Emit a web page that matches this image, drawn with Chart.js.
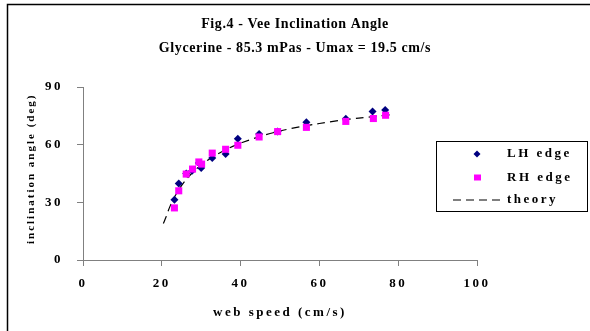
<!DOCTYPE html>
<html>
<head>
<meta charset="utf-8">
<script src="https://cdn.jsdelivr.net/npm/chart.js@4/dist/chart.umd.min.js"></script>
<style>
  html, body { margin: 0; padding: 0; background: #fff; }
</style>
</head>
<body>
<canvas id="chart" width="590" height="331"></canvas>
<script>
// values
var lhSpeed = [23.2, 24.3, 26.2, 27.7, 29.4, 30.0, 32.8, 36.2, 39.3, 44.7, 49.4, 56.7, 66.7, 73.5, 76.7];
var lhAngle = [31.3, 39.8, 45.0, 46.4, 50.5, 47.8, 53.0, 55.1, 63.1, 65.6, 66.8, 71.6, 73.5, 77.2, 78.0];

var rhSpeed = [23.2, 24.3, 26.2, 27.8, 29.4, 30.1, 32.8, 36.2, 39.3, 44.7, 49.4, 56.7, 66.7, 73.7, 76.8];
var rhAngle = [27.1, 36.0, 44.7, 47.3, 51.0, 49.9, 55.6, 57.6, 59.7, 64.0, 66.8, 69.0, 72.1, 73.6, 75.3];

var theorySpeed = [20.4, 21, 22, 23, 24, 25, 26, 28, 30, 32, 35, 38, 40, 45, 50, 55, 60, 65, 70, 75, 78];
var theoryAngle = [19, 22, 27.5, 32, 35.5, 38.7, 41.4, 45.9, 49.5, 52.4, 56.1, 59.1, 60.8, 64.3, 67.1, 69.3, 71.0, 72.6, 73.8, 74.9, 75.5];

var titleLines = ['Fig.4 - Vee Inclination Angle', 'Glycerine - 85.3 mPas - Umax = 19.5 cm/s'];
var legendLabels = ['LH edge', 'RH edge', 'theory'];

function pts(xs, ys) {
  var out = [];
  for (var i = 0; i < xs.length; i++) out.push({x: xs[i], y: ys[i]});
  return out;
}

var serif = "'Liberation Serif', 'Times New Roman', serif";
var SPACE = '2.5px';

// run fn with another letter spacing, then put the default back
function withSpacing(chart, obj, name, sp) {
  var orig = obj[name];
  obj[name] = function() {
    chart.ctx.letterSpacing = sp;
    orig.apply(this, arguments);
    chart.ctx.letterSpacing = SPACE;
  };
}

// excel-like spaced out lettering; title and y caption get less of it
var spacing = {
  id: 'spacing',
  beforeLayout: function(chart) { chart.ctx.letterSpacing = SPACE; },
  afterLayout: function(chart) {
    if (chart._spaced) return;
    withSpacing(chart, chart.titleBlock, 'draw', '0.6px');
    withSpacing(chart, chart.scales.y, 'drawTitle', '2px');
    chart._spaced = true;
  },
  beforeDraw: function(chart) { chart.ctx.letterSpacing = SPACE; }
};

// legend box sits over the right of the plot, so draw it by hand
var boxLegend = {
  id: 'boxLegend',
  afterDraw: function(chart) {
    var ctx = chart.ctx;
    ctx.save();
    ctx.letterSpacing = '2.5px';
    ctx.strokeStyle = '#000';
    ctx.lineWidth = 1;
    ctx.strokeRect(436.5, 141.5, 151, 70);

    var rows = [154, 177.5, 200];
    ctx.font = 'bold 13px ' + serif;
    ctx.textBaseline = 'middle';
    for (var i = 0; i < 3; i++) {
      var ds = chart.data.datasets[i];
      var y = rows[i];
      if (i === 0) {
        ctx.fillStyle = ds.backgroundColor;
        ctx.beginPath();
        ctx.moveTo(477, y - 3.5); ctx.lineTo(480.5, y); ctx.lineTo(477, y + 3.5); ctx.lineTo(473.5, y);
        ctx.closePath();
        ctx.fill();
      } else if (i === 1) {
        ctx.fillStyle = ds.backgroundColor;
        ctx.fillRect(474, y - 3, 7, 6);
      } else {
        ctx.strokeStyle = ds.borderColor;
        ctx.lineWidth = 1.2;
        ctx.setLineDash(ds.borderDash);
        ctx.beginPath();
        ctx.moveTo(453, y); ctx.lineTo(503, y);
        ctx.stroke();
        ctx.setLineDash([]);
      }
      ctx.fillStyle = '#000';
      ctx.fillText(legendLabels[i], 507, y);
    }

    // frame of the original figure (only top and left survive the crop)
    ctx.strokeStyle = '#000';
    ctx.lineWidth = 1.5;
    ctx.beginPath();
    ctx.moveTo(7.5, 331); ctx.lineTo(7.5, 4.5); ctx.lineTo(590, 4.5);
    ctx.stroke();
    ctx.restore();
  }
};

var ctx = document.getElementById('chart').getContext('2d');
var myChart = new Chart(ctx, {
  type: 'scatter',
  data: {
    datasets: [{
      label: legendLabels[0],
      data: pts(lhSpeed, lhAngle),
      pointStyle: 'rectRot',
      pointRadius: 4,
      backgroundColor: '#000080',
      borderColor: '#000080',
      borderWidth: 0,
      order: 2
    }, {
      label: legendLabels[1],
      data: pts(rhSpeed, rhAngle),
      pointStyle: 'rect',
      pointRadius: 5,
      backgroundColor: '#ff00ff',
      borderColor: '#ff00ff',
      borderWidth: 0,
      order: 1
    }, {
      label: legendLabels[2],
      data: pts(theorySpeed, theoryAngle),
      showLine: true,
      pointRadius: 0,
      borderColor: '#000',
      borderWidth: 1.2,
      borderDash: [8, 5],
      tension: 0.3,
      order: 3
    }]
  },
  options: {
    responsive: false,
    animation: false,
    layout: { padding: 0 },
    plugins: {
      legend: { display: false },
      tooltip: { enabled: false },
      title: {
        display: true,
        text: titleLines,
        color: '#000',
        font: { family: serif, size: 14, weight: 'bold', lineHeight: 24 / 14 },
        padding: { top: 12, bottom: 27 }
      }
    },
    scales: {
      x: {
        type: 'linear',
        min: 0,
        max: 100,
        ticks: { stepSize: 20, color: '#000', padding: 10, font: { family: serif, size: 13, weight: 'bold' } },
        grid: { drawOnChartArea: false, tickLength: 6, color: '#808080' },
        border: { color: '#808080', width: 1 },
        title: {
          display: true,
          text: 'web speed (cm/s)',
          color: '#000',
          font: { family: serif, size: 13, weight: 'bold' },
          padding: { top: 0, bottom: 11 }
        },
        afterFit: function(s) { s.height = 71; }
      },
      y: {
        min: 0,
        max: 90,
        ticks: { stepSize: 30, color: '#000', padding: 14, font: { family: serif, size: 13, weight: 'bold' } },
        grid: { drawOnChartArea: false, tickLength: 6, color: '#808080' },
        border: { color: '#808080', width: 1 },
        title: {
          display: true,
          // two leading blanks nudge the caption up a little, as in the original
          text: '  inclination angle (deg)',
          color: '#000',
          font: { family: serif, size: 11, weight: 'bold' },
          padding: { top: 25, bottom: 0 }
        },
        afterFit: function(s) { s.width = 83; }
      },
      // empty strip on the right so the plot stops at 100 while the title centres on the page
      pad: {
        axis: 'y',
        type: 'linear',
        position: 'right',
        ticks: { display: false },
        grid: { display: false },
        border: { display: false },
        afterFit: function(s) { s.width = 113; }
      }
    }
  },
  plugins: [spacing, boxLegend]
});
</script>
</body>
</html>
